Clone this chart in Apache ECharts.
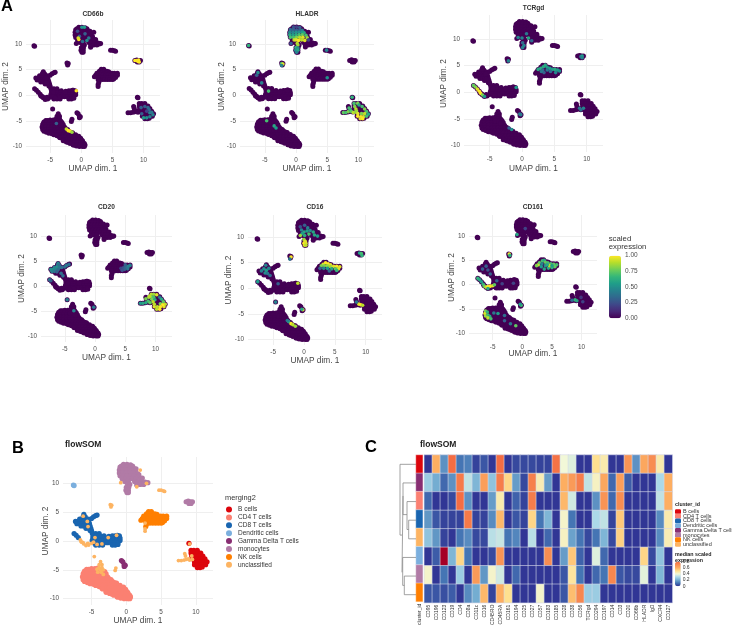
<!DOCTYPE html>
<html>
<head>
<meta charset="utf-8">
<title>UMAP expression</title>
<script src="https://cdn.jsdelivr.net/npm/echarts@6/dist/echarts.min.js"></script>
<style>
  html,body{margin:0;padding:0;background:#fff;}
  #main{width:732px;height:628px;}
</style>
</head>
<body>
<div id="main"></div>
<script>
// UMAP cells by cluster, [dim1, dim2]
const bCells = [
  [9.3,-1.6],[9.7,-1.6],[10.2,-1.6],[9.3,-2.1],[9.8,-2.1],[10.3,-2.1],[10.7,-2.1],
  [9.4,-2.6],[9.9,-2.6],[10.4,-2.6],[11,-2.6],[9.6,-3.1],[10.1,-3.1],[10.6,-3.1],[11,-3.1],[11.3,-3.1],
  [9.8,-3.6],[10.3,-3.6],[10.8,-3.6],[11.2,-3.6],[11.6,-3.6],[9.8,-4.1],[10.3,-4.1],[10.8,-4.1],[11.4,-4.1],
  [10.2,-4.6],[10.6,-4.6],[10.9,-4.5],[9,-0.4]
];
const cd4Cells = [
  [-5,-4.8],[-4.5,-4.8],[-5.7,-4.9],[-5.4,-4.9],[-4.1,-4.7],[-6.1,-5.5],
  [-6,-5.2],[-5.5,-5.2],[-5,-5.2],[-4.5,-5.2],[-4,-5.2],[-3.5,-5.2],[-3.1,-5.3],
  [-6.2,-5.7],[-5.7,-5.7],[-5.2,-5.7],[-4.7,-5.7],[-4.2,-5.7],[-3.7,-5.7],[-3.2,-5.7],[-2.9,-5.7],
  [-6.3,-6.2],[-5.7,-6.2],[-5.2,-6.2],[-4.7,-6.2],[-4.2,-6.2],[-3.7,-6.2],[-3.2,-6.2],[-2.7,-6.2],[-2.5,-6.5],
  [-6.2,-6.7],[-5.7,-6.7],[-5.2,-6.7],[-4.7,-6.7],[-4.2,-6.7],[-3.7,-6.7],[-3.2,-6.7],[-2.7,-6.7],[-2.2,-6.7],[-2,-7],
  [-6,-7],[-5.6,-7.2],[-5.1,-7.2],[-4.6,-7.2],[-4.1,-7.2],[-3.6,-7.2],[-3.1,-7.2],[-2.6,-7.2],[-2.1,-7.2],[-1.7,-7.2],[-1.4,-7.3],
  [-5.2,-7.4],[-4.7,-7.5],[-4.4,-7.7],[-3.9,-7.7],[-3.4,-7.7],[-2.9,-7.7],[-2.4,-7.7],[-1.9,-7.7],[-1.4,-7.7],[-0.9,-7.7],[-0.4,-8],
  [-3.9,-7.9],[-3.5,-8.2],[-3,-8.2],[-2.5,-8.2],[-2,-8.2],[-1.5,-8.2],[-1,-8.2],[-0.5,-8.2],[-0.1,-8.4],
  [-3.4,-8.3],[-2.9,-8.7],[-2.4,-8.7],[-1.9,-8.7],[-1.4,-8.7],[-0.9,-8.7],[-0.4,-8.7],[0,-8.7],[0.2,-8.9],
  [-2.9,-8.9],[-2.4,-9.1],[-2.1,-9.2],[-1.6,-9.2],[-1.1,-9.2],[-0.6,-9.2],[-0.1,-9.2],[0.3,-9.2],[0.5,-9.4],
  [-1.8,-9.4],[-1.3,-9.7],[-1.2,-9.7],[-0.7,-9.7],[-0.2,-9.7],[0.3,-9.7],[0.6,-9.7],[-0.8,-9.9],[-0.3,-10],[0.2,-10],[0.5,-10]
];
const cd8Cells = [
  [-6.1,4.6],[-6.2,4.2],[-5.9,4.2],[-6.7,3.8],[-6.3,3.8],[-5.9,3.8],[-5.5,3.8],
  [-7.3,3.4],[-6.9,3.4],[-6.5,3.4],[-6.1,3.4],[-5.7,3.4],[-5.4,3.4],
  [-7.1,3],[-6.7,3],[-6.3,3],[-5.9,3],[-5.5,3],[-5.3,3],[-6.5,2.6],[-6.1,2.6],[-5.7,2.6],[-5.2,2.6],
  [-5.8,2.2],[-5.4,2.2],[-5.1,2.2],[-5.2,1.8],[-5,1.8],[-4.9,1.4],
  [-5,3.9],[-4.7,4.2],[-4.4,4.4],[-4.2,4.5],
  [-4.4,1.3],[-3.9,1.3],[-4.8,0.9],[-4.3,0.9],[-3.8,0.9],[-3.2,0.9],[-2.5,0.8],[-2,0.9],[-1.6,0.9],[-1.3,1],[-1,0.9],
  [-4.8,0.5],[-4.3,0.5],[-3.8,0.5],[-3.3,0.5],[-2.8,0.5],[-2.3,0.5],[-1.8,0.5],[-1.3,0.5],[-0.9,0.5],
  [-4.9,0.1],[-4.4,0.1],[-3.9,0.1],[-3.4,0.1],[-2.9,0.1],[-2.4,0.1],[-1.9,0.1],[-1.4,0.1],[-0.9,0.1],
  [-4.7,-0.3],[-4.2,-0.3],[-3.7,-0.3],[-3.2,-0.3],[-2.7,-0.3],[-2.2,-0.3],[-1.7,-0.3],[-1.2,-0.3],
  [-4.4,-0.7],[-3.9,-0.7],[-3.4,-0.7],[-2,-0.7],[-1.6,-0.7],[-1.2,-0.6],
  [-7.5,1.3],[-7.2,1],[-6.9,0.6]
];
const dendriticCells = [[-7.6,9.7],[-7.5,9.6]];
const gammaDeltaCells = [[-0.7,-3.4],[-0.5,-3.6],[-0.3,-4.1],[-0.15,-4.2],[-0.3,-4.4]];
const monocyteCells = [
  [-0.4,13.3],[0.1,13.3],[0.6,13.2],[-0.7,13],[0.9,13],[-0.9,12.8],[-0.4,12.8],[0.1,12.8],[0.6,12.8],[1,12.7],
  [-1,12.3],[-0.5,12.3],[0,12.3],[0.5,12.3],[1,12.3],[1.3,12.2],[1.4,12.5],
  [-1,11.8],[-0.5,11.8],[0,11.8],[0.5,11.8],[1,11.8],[1.6,11.7],[1.8,11.5],
  [-0.9,11.3],[-0.4,11.3],[0.1,11.3],[0.6,11.3],[1.1,11.3],[1.8,11.2],[2.3,10.9],
  [-0.6,10.8],[-0.1,10.8],[0.4,10.8],[0.9,10.8],[1.4,10.8],[2.1,10.7],
  [-0.2,10.3],[0.3,10.3],[1.2,10.3],[1.7,10.3],[2.2,10.3],[2.7,10.2],[3.1,10.1],
  [0.2,9.8],[0.5,9.8],[1.5,9.7],[2,9.8],[2.5,9.8],
  [0,9.3],[0.35,9.3],[-0.05,8.8],[0.3,8.8],[0.1,8.4],[0.3,8.4],
  [8.6,6.8],[8.9,6.9],[9.2,6.8],[9.5,6.8],[9,6.5],[9.3,6.5],[3.4,3.3]
];
const nkCells = [
  [3.2,5.1],[3.6,5.1],[2.9,4.7],[3.3,4.7],[3.7,4.7],[4.1,4.7],[4.4,4.6],
  [2.5,4.3],[2.9,4.3],[3.3,4.3],[3.7,4.3],[4.1,4.3],[4.5,4.3],[4.9,4.3],[5.3,4.3],[5.8,4.3],
  [2.3,3.9],[2.7,3.9],[3.1,3.9],[3.5,3.9],[3.9,3.9],[4.3,3.9],[4.7,3.9],[5.1,3.9],[5.5,3.9],[5.8,3.9],
  [2.7,3.5],[3.1,3.5],[3.5,3.5],[3.9,3.5],[4.3,3.5],[4.7,3.5],[5.1,3.5],[5.5,3.5],
  [3.4,3.1],[3.8,3.1],[4.2,3.1],[4.6,3.1],[5,3.1],[5.2,3.2],[2.1,3.6],[2.9,2.9],[2.8,2.5]
];
const unclassifiedCells = [
  [-3.7,-3.6],[-3.9,-4.1],[-3.5,-4.1],[-3.9,-4.6],[-3.5,-4.6],[-4.2,-4.9],[-3.7,-5],[-3.3,-5],
  [-4.1,-5.4],[-3.6,-5.4],[-3.3,-5.8],[-4.6,-2.7],[-1.6,-5.1],[-1.5,-4.7],
  [-6.6,0.2],[-6.5,-0.1],[-6.4,-0.2],[-6.2,-0.3],[-6.1,-0.5],[-5.8,-0.8],[-5.6,-0.5],[-5.4,-0.7],[-5,-0.4],[-5.5,-0.4],[-4.7,-0.2],
  [-6.2,4.3],[-5.6,3.4],[-5.5,2.5],[-4.5,0.6],[-3.5,-0.5],[-2.6,0.6],[-1.4,1],[-4.2,-0.6],
  [2,12.3],[-0.8,10.1],[2.9,10],[1.5,9.4],[2.7,3.1],[2.7,2.1],[2.7,1.7],
  [4.7,8.8],[5,8.8],[5.3,8.7],[5.5,8.6],[-2.3,6.3],[-2.1,6.2],[-2.2,5.9],
  [7.5,-3.4],[7.9,-3.4],[8.3,-3.3],[8.6,-3.2],[8.9,-3.1],[8.5,-2.6],[8.4,-2.2],[9.1,-3.3],[9.5,-3.2],[9.4,-2.6],[9.1,-0.5]
];

const clusterNames = ['B cells','CD4 T cells','CD8 T cells','Dendritic cells','Gamma Delta T cells','monocytes','NK cells','unclassified'];
const clusterColors = ['#dc050c','#fb8072','#1965b0','#7bafde','#882e72','#b17ba6','#ff7f00','#fdb462'];
const clusterCells = [bCells,cd4Cells,cd8Cells,dendriticCells,gammaDeltaCells,monocyteCells,nkCells,unclassifiedCells];

// brighter cells of each marker on top of the dark cloud, [dim1, dim2, scaled expression]
const cd66bHigh = [
  [0.1,13.3,.5],[0.5,13.3,.55],[-0.6,12.5,.25],[0.6,12,.3],[-0.3,11.5,.3],[1.2,11.2,.4],[0.9,10.7,.5],[0.2,10.5,.35],[-0.4,10.9,1],[-0.5,11.2,.95],
  [8.6,6.8,1],[8.9,6.8,1],[9.1,6.6,1],[9.2,6.9,1],[9.3,6.5,1],[-0.8,0.9,1],
  [-2.4,-6.6,.9],[-2.1,-6.9,1],[-1.8,-7,1],[-1.5,-7.2,.85],[-4,-5.5,.3],
  [9.6,-2.4,.3],[10.2,-2.2,.3],[11,-3.4,.45],[11.5,-3.8,.45],[10.5,-4.4,.5],[10,-4.4,.55],[10.9,-2.8,.35],[9.7,-3.6,.3],[10.5,-3.1,.2],[11,-4.2,.45],[11.3,-3.3,.4],[10.7,-2.4,.35]
];
const hladrHigh = [
  [-0.4,13.3,.25],[0.1,13.3,.2],[0.6,13.2,.3],[-0.9,12.8,.35],[-0.4,12.8,.3],[0.1,12.7,.3],[0.6,12.7,.3],[1,12.7,.4],
  [-1,12.3,.45],[-0.5,12.3,.45],[0,12.3,.5],[0.5,12.3,.5],[1,12.3,.55],[1.3,12.2,.6],
  [-1,11.8,.6],[-0.5,11.8,.55],[0,11.8,.6],[0.5,11.8,.7],[1,11.8,.75],[1.6,11.7,.7],
  [-0.9,11.3,.7],[-0.4,11.3,.7],[0.1,11.3,.8],[0.6,11.3,.9],[1.1,11.3,.95],[1.8,11.2,.85],
  [-0.3,10.8,.9],[0,10.8,.95],[0.4,10.7,1],[0.9,10.8,.9],[1.4,10.7,.95],[2,10.8,.2],[0.2,10.1,.9],[0.3,9.8,.85],
  [0,9.3,.65],[0.3,9.2,.5],[-0.05,8.8,.5],[0.3,8.8,.6],[0.1,8.4,.45],[-0.8,10.1,.3],[4.9,8.8,.45],
  [-7.6,9.7,.65],[-2.3,6.2,.7],[-2.1,6.1,.95],[-2.3,5.8,.45],[-6.1,4.4,.5],[-6.3,3.9,.3],[-5.5,2.4,.45],[-4.4,0.8,.7],[5,3.4,.5],[9,-0.4,.65],
  [-4.7,-5,.7],[-3.5,-6,.6],[-3.2,-6.4,.55],
  [7.6,-3.4,.75],[8,-3.4,.7],[8.4,-3.2,.8],[8.7,-2.9,.65],[8.9,-3.2,.75],[8.5,-2.5,.7],[9.2,-3.4,.9],[9.5,-3.3,.85],
  [9.3,-1.6,.7],[9.9,-1.6,.8],[9.4,-2.2,.8],[10.1,-1.9,.6],[10.6,-2.2,.7],[9.6,-2.7,.9],[11,-2.7,.8],[9.7,-3.1,.85],[11.3,-3.2,.7],
  [9.9,-3.6,.95],[10.5,-3.6,.8],[11,-3.6,.9],[11.6,-3.7,.6],[9.9,-4.1,1],[10.4,-4.2,1],[10.8,-4.2,.95],[11.3,-4.1,.7],[10.3,-4.6,.95],[10.7,-4.6,1]
];
const tcrgdHigh = [
  [2.5,4.3,.6],[2.9,4.5,.6],[3.3,4.8,.6],[3.6,5.1,.6],[3.9,4.7,.55],[4.3,4.5,.55],[4.7,4.3,.55],[5.1,4.3,.6],[5.5,4.2,.55],[5.8,4,.5],[5.2,3.7,.45],[3.2,4.2,.35],[3.9,4.2,.4],[4.4,3.9,.35],[3.4,3.7,.3],[3,3.9,.4],
  [-7.5,1.3,.75],[-7.2,1,.8],[-6.9,0.6,.95],[-6.6,0.2,1],[-6.4,-0.2,1],[-6.1,-0.5,.8],[-5.8,-0.8,.55],[-0.9,0.9,.55],
  [-0.6,10.3,.45],[0.1,9.3,.35],[0.3,8.8,.45],[0.1,8.4,.45],[1,10.2,.6],[0.7,11,.4],[1.5,9.7,.35],[0,10.2,.45],
  [9.1,6.7,.35],[9.3,6.8,.55],[9.3,6.5,.45],[-2.1,5.9,.45],[-0.2,-4.2,.45],[-0.35,-4.1,.4],[9.5,-3,.45],[8.9,-3,.4],[9.1,-3.3,.35],[-1.6,-7,.5],[-2,-6.7,.3]
];
const cd20High = [
  [-6.1,4.6,.45],[-6.2,4.2,.4],[-5.9,4.2,.35],[-6.7,3.8,.45],[-6.3,3.8,.5],[-5.9,3.7,.4],[-5.5,3.8,.35],[-7.3,3.4,.5],[-6.9,3.4,.5],[-6.5,3.4,.45],[-6.1,3.3,.35],[-7.1,3,.45],[-6.7,3,.4],[-6.3,2.9,.3],
  [-5.6,2.6,.35],[-5.3,2.1,.35],[-5,3.9,.35],[-4.7,4.2,.4],[-4.3,4.4,.35],[-7.5,1.3,.4],[-7.3,1.1,.3],[-4.6,-2.7,.45],
  [4.3,3.6,.2],[4.7,3.7,.25],[5.1,3.9,.35],[5.5,4,.45],[5.8,4.2,.45],[5.4,3.5,.4],[4.9,3.4,.3],[4.5,3.2,.25],[5,4.3,.3],[-3.5,-4.9,.45],[-0.2,-4.2,.4],
  [9.3,-1.6,.9],[9.7,-1.6,.85],[10.2,-1.7,.95],[9.3,-2.1,.8],[9.7,-2.2,.7],[10.7,-2.2,.4],[9.4,-2.6,.8],[9.9,-2.7,.6],[11,-2.6,.6],[9.6,-3.1,.9],[11.3,-3.1,.75],
  [9.8,-3.6,.9],[10.8,-3.5,.8],[11.6,-3.6,.9],[9.8,-4.1,.95],[10.3,-4.1,.9],[10.8,-4.1,1],[11.4,-4.1,.95],[10.2,-4.6,.9],[10.7,-4.6,1],[11.2,-3.7,1],
  [8.9,-2.2,.85],[8.4,-2.5,.8],[8.8,-3,.7],[8.4,-3.3,.6],[7.9,-3.4,.6],[7.5,-3.4,.55],[9.1,-3.3,.75],[9,-2,.9]
];
const cd16High = [
  [-0.6,12,.25],[0.1,12.3,.3],[0.6,11.8,.45],[-0.4,11.4,.45],[0.5,11.2,.55],[1,11.3,.5],[1.5,11,.6],[0,11,.6],[-0.3,10.7,.55],[0.8,10.6,.7],[1.7,10.4,.6],[2.2,10.2,.55],[-0.6,10.3,.85],[0.1,10.3,.6],
  [0,9.5,.85],[0.2,9.2,.95],[0,8.8,1],[0.3,8.8,.95],[0.1,8.4,.95],[0.3,8.4,.9],[-2.1,6.1,1],[-2.3,5.7,.4],[9,6.9,.55],[9.3,6.8,.7],[9.4,6.4,.65],
  [3.1,4.7,.95],[3.5,5,1],[3.9,4.8,1],[4.3,4.6,.95],[2.8,4.4,.8],[3.3,4.4,.8],[3.8,4.4,.85],[4.3,4.2,.85],[4.8,4.3,.95],[5.3,4.3,1],[5.8,4.2,.95],[5.6,3.8,.95],[5.1,3.8,.75],[4.5,3.8,.6],[3.8,3.9,.55],[3.2,3.9,.45],[4.1,3.4,.35],[2.6,3.9,.3],[5.3,3.5,.65],
  [-6.2,4.5,.45],[-6.5,3.8,.5],[-6.9,3.4,.45],[-6.1,3.5,.55],[-5.7,3.9,.45],[-6.3,3,.5],[-5.9,2.9,.4],[-5.5,2.5,.35],[-7.5,1.3,.55],[-4.6,-2.7,.45],[-1,1,.9],[-4.2,0.9,.3],
  [-0.2,-4.2,.95],[-0.35,-4.1,.6],[-2.5,-6.5,.55],[-2.1,-6.9,1],[-1.8,-7.1,.9],[-1.4,-7.4,.85],[-2.7,-6.3,.4],
  [8.9,-3.1,.95],[9.2,-3.2,1],[9.5,-3.3,.9],[8.5,-2.7,.4]
];
const cd161High = [
  [2.7,4.1,.95],[2.9,4.5,.75],[3.4,4.9,.7],[3.7,5,.6],[3.9,4.6,.75],[4.3,4.5,.7],[4.8,4.3,.7],[5.3,4.2,.75],[5.8,4.1,.7],[5.5,3.7,.75],[5,3.5,.65],[4.4,3.4,.6],[3.7,3.2,.6],[3.2,3.7,.55],[4.6,3.9,.9],[3.9,3.9,.5],[3.3,4.3,.45],[4.2,4.1,.6],[2.4,3.9,.8],[5,3.9,.55],
  [-7.5,1.3,.65],[-7.2,1,.6],[-6.9,0.6,.55],[-6.6,0.1,.65],[-6.4,-0.3,.75],[-6.1,-0.5,.9],[-5.8,-0.4,1],[-5.4,-0.3,1],[-5,-0.2,.95],[-5.8,-0.8,.6],[-4.7,0,.75],
  [-6.2,-5.4,.8],[-6.3,-5.9,.95],[-5.9,-5.6,.65],[-6.2,-6.4,.85],[-5.8,-6.2,.7],[-5.5,-6.5,.6],[-5.8,-6.8,.9],[-5.3,-7,.7],[-4.8,-5.8,.4],[-4.1,-5.9,.55],[-3,-6.3,.35],[-2,-8,.4],[-1.1,-8.4,.75],[-3,-7.4,.3],
  [-0.2,-4.2,.7],[-0.35,-4,.55],[-2.2,6.3,1],[-2.1,6,.65],[-0.9,10.3,.6],[8.9,-3.1,.65],[9.2,-3.3,.6],[8.4,-3.2,.35],
  [-6.1,3.8,.3],[-6.7,3.2,.3],[-5.8,3,.25],[-5.4,2.2,.3],[-4.3,0.8,.3],[-3.4,0.2,.2],[-1.5,0.3,.2],[10.2,-3.5,.2],[0.5,11.5,.2],[9.9,-2.6,.15]
];

const umapXTicks = [-5,0,5,10];
const umapYTicks = [-10,-5,0,5,10];

// position of each panel in px, and where dim 0 falls (x0, y0) with px per unit (sx, sy)
const panels = [
  {name:'CD66b', high:cd66bHigh, left:26, right:160, top:20, bottom:153, x0:81.3, sx:6.23, y0:95.3, sy:5.12, titleY:10, nameX:12, nameY:16},
  {name:'HLADR', high:hladrHigh, left:240, right:374, top:20, bottom:153, x0:296, sx:6.24, y0:95.2, sy:5.12, titleY:10, nameX:12, nameY:14},
  {name:'TCRgd', high:tcrgdHigh, left:464, right:603, top:15, bottom:152, x0:522, sx:6.47, y0:92.3, sy:5.32, titleY:4, nameX:13, nameY:16},
  {name:'CD20', high:cd20High, left:41, right:172, top:215, bottom:342, x0:95, sx:6.05, y0:286.3, sy:4.98, titleY:203, nameX:12, nameY:15},
  {name:'CD16', high:cd16High, left:248, right:382, top:215, bottom:345, x0:304, sx:6.17, y0:288.3, sy:5.12, titleY:203, nameX:12, nameY:15},
  {name:'CD161', high:cd161High, left:469, right:597, top:215, bottom:340, x0:522.3, sx:5.93, y0:284.7, sy:4.88, titleY:203, nameX:10, nameY:13}
];
const panelB = {left:63, right:213, top:457, bottom:605, x0:126.3, sx:6.96, y0:541, sy:5.77, nameX:12, nameY:13};

// heatmap, rows top to bottom
const markers = ['CD95','CD196','CD123','CD19','CD4','CD8a','CD11c','CD16','CD45RO','CD45RA','CD161','CD194','CD25','CD27','CD57','CD183','CD185','CD28','CD38','CD56','TCRgd','CD294','CD197','CD14','CD3','CD20','CD66b','HLADR','IgD','CXCR4','CD127'];
const heatRowClusters = [0,4,1,2,7,3,5,6];
const heatValues = [
  [0,.6,.15,.8,.1,.12,.02,.05,0,.8,0,.03,.03,.03,.02,.02,.78,.4,.37,0,0,.5,.46,0,0,.68,.15,.62,.7,.46,0],
  [.27,.2,.08,.15,.76,.33,.22,.65,.25,.75,.52,.17,.03,.74,.45,.17,0,.6,.66,.75,.33,.43,.62,.08,.65,.06,0,0,0,.3,.6],
  [.08,0,0,.03,.8,.15,0,0,.17,.46,0,.07,.02,.75,0,0,0,.58,.35,0,0,.15,.68,.08,.7,0,0,0,0,.33,.6],
  [.16,.05,.02,.02,.02,.76,.02,.02,.14,.58,0,.05,.02,.52,.1,.22,0,.42,.1,0,0,.3,.33,.02,.55,0,0,0,0,.14,.46],
  [.25,.16,.02,0,.1,.14,.03,.03,.32,.34,.1,.13,0,.32,0,.08,0,.43,.18,.1,.03,.1,.22,.03,.53,0,0,0,0,.14,.45],
  [0,.06,1,.22,.52,.1,0,0,.03,.68,0,0,0,0,0,.7,0,.17,.55,.07,0,.37,.08,0,0,0,0,.52,.03,.25,0],
  [.42,0,.1,0,.27,0,.66,.16,.42,.35,0,.08,0,0,0,0,0,.05,.48,.1,0,.08,.1,.72,.05,.03,.03,.38,0,.22,0],
  [.05,.05,.04,.06,0,.14,.2,.58,.02,.6,.5,0,0,0,.42,0,0,.05,.57,.72,.27,.27,0,0,0,0,0,0,0,0,0]
];
// dendrogram segments: px from the left of its box, row position from the top
const dendroLines = [
  [20,.5],[4,.5],[4,4.3],[6,4.3],null,
  [7,2.2],[6,2.2],[6,6.3],[6.7,6.3],null,
  [20,1.5],[7,1.5],[7,3.2],[11,3.2],null,
  [20,2.5],[11,2.5],[11,4],[12.7,4],null,
  [20,3.5],[12.7,3.5],[12.7,4.5],[20,4.5],null,
  [20,5.5],[6.7,5.5],[6.7,7],[8.3,7],null,
  [20,6.5],[8.3,6.5],[8.3,7.5],[20,7.5]
];

const viridis = ['#440154','#482878','#3e4989','#31688e','#26828e','#1f9e89','#35b779','#6ece58','#b5de2b','#fde725'];
const rdYlBu = ['#313695','#4575b4','#74add1','#abd9e9','#f2f8d8','#fee090','#fdae61','#f88d52','#f46d43','#d73027','#a50026'];

const font = '"Liberation Sans", Arial, sans-serif';
const allCells = [].concat(bCells,cd4Cells,cd8Cells,dendriticCells,gammaDeltaCells,monocyteCells,nkCells,unclassifiedCells);

let grids = [], xAxes = [], yAxes = [], series = [], titles = [], highIdx = [];

function titleAt(text,left,top,size,weight,color,extra){
  titles.push(Object.assign({text:text,left:left,top:top,padding:0,
    textStyle:{fontFamily:font,fontSize:size,fontWeight:weight||'normal',color:color||'#333',lineHeight:size+1}},extra||{}));
}

function addUmap(p){
  let idx = grids.length;
  grids.push({left:p.left,top:p.top,width:p.right-p.left,height:p.bottom-p.top});
  let common = {
    type:'value',
    nameLocation:'middle',
    nameMoveOverlap:false,
    nameTextStyle:{fontFamily:font,fontSize:8.3,color:'#444'},
    axisLine:{show:false},
    splitLine:{show:true,lineStyle:{color:'#efefef',width:1}}
  };
  let labels = {fontFamily:font,fontSize:6.4,color:'#4d4d4d',margin:4};
  xAxes.push(Object.assign({},common,{gridIndex:idx,name:'UMAP dim. 1',nameGap:p.nameX,
    axisTick:{show:false,customValues:umapXTicks},axisLabel:Object.assign({customValues:umapXTicks},labels),
    min:(p.left-p.x0)/p.sx,max:(p.right-p.x0)/p.sx}));
  yAxes.push(Object.assign({},common,{gridIndex:idx,name:'UMAP dim. 2',nameGap:p.nameY,
    axisTick:{show:false,customValues:umapYTicks},axisLabel:Object.assign({customValues:umapYTicks},labels),
    min:(p.y0-p.bottom)/p.sy,max:(p.y0-p.top)/p.sy}));
  return idx;
}

panels.forEach(function(p){
  let idx = addUmap(p);
  titleAt(p.name,(p.left+p.right)/2,p.titleY,6.6,'bold','#333',{textAlign:'center'});
  series.push({type:'scatter',xAxisIndex:idx,yAxisIndex:idx,data:allCells,symbolSize:5,
    itemStyle:{color:'#440154',opacity:1},silent:true});
  highIdx.push(series.length);
  series.push({type:'scatter',xAxisIndex:idx,yAxisIndex:idx,data:p.high,symbolSize:3.6,silent:true,
    itemStyle:{opacity:1}});
});

// panel B
let idxB = addUmap(panelB);
clusterNames.forEach(function(n,i){
  series.push({type:'scatter',name:n,xAxisIndex:idxB,yAxisIndex:idxB,data:clusterCells[i],
    symbolSize:i==7?3.8:5.2,itemStyle:{color:clusterColors[i],opacity:1},silent:true});
});

// expression colourbar axis
let idxBar = grids.length;
grids.push({left:621,top:255.7,width:1,height:62.5});
xAxes.push({gridIndex:idxBar,type:'value',show:false});
yAxes.push({gridIndex:idxBar,type:'value',min:0,max:1,interval:.25,position:'right',
  axisLine:{show:false},axisTick:{show:false},splitLine:{show:false},
  axisLabel:{fontFamily:font,fontSize:6.5,color:'#4d4d4d',margin:3,formatter:function(v){return v.toFixed(2);}}});

// heatmap
let idxHeat = grids.length;
grids.push({left:424.3,top:455,width:248,height:149});
xAxes.push({gridIndex:idxHeat,type:'category',data:markers,axisLine:{show:false},axisTick:{show:false},
  splitLine:{show:false},axisLabel:{interval:0,rotate:90,fontFamily:font,fontSize:5,color:'#333',margin:2}});
yAxes.push({gridIndex:idxHeat,type:'category',data:heatRowClusters.map(function(c){return clusterNames[c];}),inverse:true,show:false});
let heatData = [];
heatValues.forEach(function(row,r){ row.forEach(function(v,c){ heatData.push([c,r,v]); }); });
let heatIdx = series.length;
series.push({type:'heatmap',xAxisIndex:idxHeat,yAxisIndex:idxHeat,data:heatData,silent:true,
  itemStyle:{borderColor:'#d5d8ea',borderWidth:.6}});

// annotation column
let idxAnn = grids.length;
grids.push({left:416,top:455,width:6.7,height:149});
xAxes.push({gridIndex:idxAnn,type:'category',data:['cluster_id'],axisLine:{show:false},axisTick:{show:false},
  axisLabel:{interval:0,rotate:90,fontFamily:font,fontSize:5,color:'#333',margin:2}});
yAxes.push({gridIndex:idxAnn,type:'category',data:heatRowClusters.map(function(c){return clusterNames[c];}),inverse:true,show:false});
let annIdx = series.length;
series.push({type:'heatmap',xAxisIndex:idxAnn,yAxisIndex:idxAnn,silent:true,
  data:heatRowClusters.map(function(c,r){return [0,r,c];}),itemStyle:{borderColor:'#fff',borderWidth:.4}});

// dendrogram
let idxDen = grids.length;
grids.push({left:396,top:455,width:20,height:149});
xAxes.push({gridIndex:idxDen,type:'value',min:0,max:20,show:false});
yAxes.push({gridIndex:idxDen,type:'value',min:0,max:8,inverse:true,show:false});
series.push({type:'line',xAxisIndex:idxDen,yAxisIndex:idxDen,data:dendroLines,symbol:'none',silent:true,
  lineStyle:{color:'#8a8a8a',width:.8},connectNulls:false});

// heatmap legend axis, the empty series only gives its visualMap something to point at
let idxHeatBar = grids.length;
grids.push({left:680.7,top:561.7,width:1,height:24.5});
xAxes.push({gridIndex:idxHeatBar,type:'value',show:false});
yAxes.push({gridIndex:idxHeatBar,type:'value',min:0,max:.8,interval:.2,position:'right',
  axisLine:{show:false},axisTick:{show:false},splitLine:{show:false},
  axisLabel:{fontFamily:font,fontSize:5,color:'#333',margin:1}});
let heatBarIdx = series.length;
series.push({type:'scatter',xAxisIndex:idxHeatBar,yAxisIndex:idxHeatBar,data:[]});

titleAt('A',1,-2,16.5,'bold','#000');
titleAt('B',12,440,16.5,'bold','#000');
titleAt('C',365,439,16.5,'bold','#000');
titleAt('flowSOM',65,440,8.5,'bold','#222');
titleAt('flowSOM',420,440,8.5,'bold','#222');
titleAt('scaled\nexpression',608.7,234,7.8,'normal','#333');
titleAt('merging2',225,494,7.4,'normal','#333');
titleAt('cluster_id',675,501.5,5.3,'bold','#222');
titleAt('median scaled\nexpression',675,551,5.3,'bold','#222');

let chart = echarts.init(document.getElementById('main'));
chart.setOption({
  animation:false,
  backgroundColor:'#fff',
  title:titles,
  grid:grids,
  xAxis:xAxes,
  yAxis:yAxes,
  legend:{
    left:226,top:506,orient:'vertical',itemWidth:8,itemHeight:6,itemGap:.9,padding:0,icon:'circle',
    data:clusterNames,selectedMode:false,
    textStyle:{fontFamily:font,fontSize:6.5,color:'#333'}
  },
  visualMap:[
    {type:'continuous',seriesIndex:highIdx,dimension:2,min:0,max:1,left:609,top:255.7,itemWidth:12,itemHeight:62.5,
      padding:0,calculable:false,realtime:false,hoverLink:false,inRange:{color:viridis},textStyle:{fontSize:1,color:'transparent'},text:null,showLabel:false},
    {type:'continuous',show:false,seriesIndex:heatIdx,dimension:2,min:0,max:1,inRange:{color:rdYlBu}},
    {type:'continuous',seriesIndex:heatBarIdx,dimension:0,min:0,max:.8,left:675,top:561.7,itemWidth:5.7,itemHeight:24.5,
      padding:0,calculable:false,hoverLink:false,inRange:{color:rdYlBu.slice(0,9)},text:null},
    {type:'piecewise',seriesIndex:annIdx,dimension:2,left:675,top:508.5,orient:'vertical',inverse:true,align:'left',
      itemWidth:6,itemHeight:4.7,itemGap:-1.3,padding:0,textGap:2,hoverLink:false,selectedMode:false,
      textStyle:{fontFamily:font,fontSize:5.5,color:'#333'},
      pieces:clusterNames.map(function(n,i){return {value:i,label:n,color:clusterColors[i]};})}
  ],
  series:series
});
</script>
</body>
</html>
